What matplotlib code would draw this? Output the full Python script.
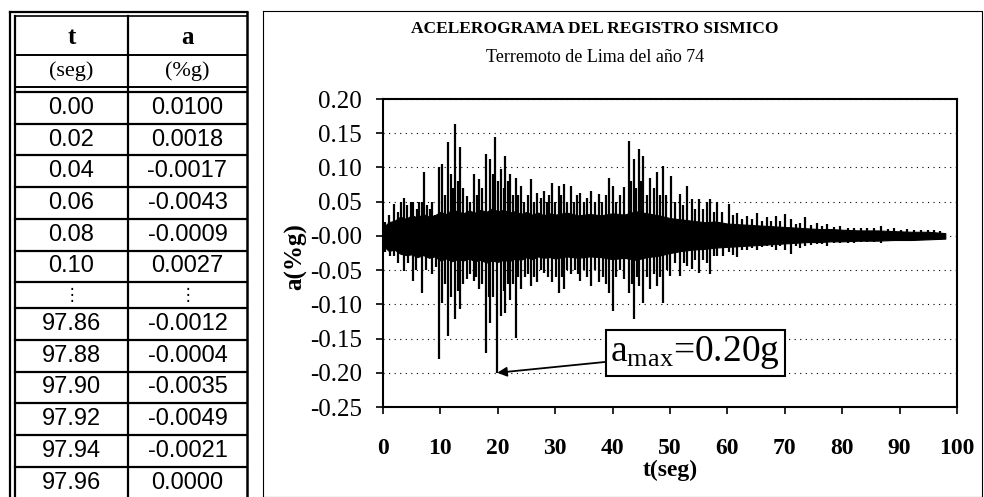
import matplotlib.pyplot as plt
import numpy as np

plt.rcParams['font.family'] = 'Liberation Serif'
plt.rcParams['mathtext.fontset'] = 'custom'
plt.rcParams['mathtext.rm'] = 'Liberation Serif'
plt.rcParams['axes.unicode_minus'] = False

# tabla de valores (inicio y final del registro)
tab_t_ini = [0.00, 0.02, 0.04, 0.06, 0.08, 0.10]
tab_a_ini = [0.0100, 0.0018, -0.0017, -0.0043, -0.0009, 0.0027]
tab_t_fin = [97.86, 97.88, 97.90, 97.92, 97.94, 97.96]
tab_a_fin = [-0.0012, -0.0004, -0.0035, -0.0049, -0.0021, 0.0000]

# banda densa del registro
core_t = [0, 1, 2, 3, 4, 5, 6, 7, 8, 9,
          10, 11, 12, 13, 14, 15, 16, 17, 18, 19,
          20, 21, 22, 23, 24, 25, 26, 27, 28, 29,
          30, 32, 34, 36, 38, 40, 42, 44, 46, 48,
          50, 52, 54, 56, 58, 60, 62, 64, 66, 68,
          70, 72, 74, 76, 78, 80, 83, 86, 89, 92,
          95, 97.96]
core_hi = [0.012, 0.020, 0.022, 0.028, 0.025, 0.030, 0.027, 0.032, 0.028, 0.030,
           0.035, 0.032, 0.038, 0.036, 0.033, 0.037, 0.034, 0.038, 0.035, 0.040,
           0.036, 0.038, 0.034, 0.036, 0.032, 0.035, 0.031, 0.034, 0.030, 0.033,
           0.031, 0.034, 0.030, 0.032, 0.030, 0.033, 0.031, 0.036, 0.033, 0.030,
           0.026, 0.024, 0.022, 0.020, 0.021, 0.018, 0.017, 0.016, 0.015, 0.014,
           0.013, 0.012, 0.011, 0.010, 0.010, 0.009, 0.008, 0.008, 0.007, 0.006,
           0.006, 0.004]
core_lo = [-0.014, -0.022, -0.020, -0.026, -0.028, -0.027, -0.031, -0.028, -0.032, -0.030,
           -0.036, -0.033, -0.037, -0.034, -0.036, -0.033, -0.037, -0.035, -0.039, -0.036,
           -0.038, -0.035, -0.037, -0.033, -0.035, -0.031, -0.034, -0.030, -0.032, -0.031,
           -0.033, -0.030, -0.032, -0.030, -0.031, -0.034, -0.032, -0.035, -0.031, -0.029,
           -0.025, -0.022, -0.020, -0.019, -0.017, -0.016, -0.015, -0.014, -0.013, -0.012,
           -0.011, -0.010, -0.009, -0.009, -0.008, -0.008, -0.007, -0.007, -0.006, -0.006,
           -0.005, -0.004]

# picos positivos
pos_t = [0.3, 1.0, 1.9, 2.6, 3.2, 3.6, 4.2, 4.8, 5.3, 5.9, 6.3, 6.8, 7.2, 7.7, 8.2, 8.5, 9.0,
         9.7, 10.3, 10.8, 11.3, 11.8, 12.2, 12.6, 13.0, 13.5, 14.0, 14.6, 15.2, 15.8, 16.3,
         16.7, 17.3, 18.0, 18.7, 19.1, 19.5, 20.0, 20.5, 21.0, 21.3, 21.8, 22.2, 22.7, 23.1,
         23.6, 24.0, 24.6, 25.2, 25.7, 26.3, 26.9, 27.5, 28.0, 28.6, 29.0, 29.5, 30.0, 30.6,
         31.0, 31.5, 32.1, 32.7, 33.3, 33.8, 34.4, 35.0, 35.6, 36.2, 36.9, 37.6, 38.2, 38.8,
         39.4, 40.0, 40.6, 41.3, 42.0, 42.8, 43.2, 43.7, 44.1, 44.6, 45.0, 45.3, 46.0, 46.6,
         47.2, 47.7, 48.2, 48.7, 49.3, 50.1, 50.8, 51.8, 52.3, 52.9, 53.8, 54.4, 55.0, 55.7,
         56.4, 57.0, 57.6, 58.2, 59.0, 60.2, 61.0, 61.7, 62.5, 63.4, 64.3, 65.2, 66.0, 66.9,
         67.6, 68.4, 69.2, 70.1, 71.0, 72.0, 72.7, 73.6, 74.6, 75.6, 76.5, 77.4, 78.5, 79.7,
         81.0, 82.0, 83.2, 84.4, 85.5, 86.7, 88.0, 89.0, 90.2, 91.3, 92.5, 93.7, 95.0, 96.0, 97.0]
pos_a = [0.020, 0.030, 0.046, 0.035, 0.050, 0.056, 0.045, 0.050, 0.050, 0.040, 0.050, 0.050,
         0.094, 0.045, 0.040, 0.050, 0.030, 0.100, 0.105, 0.060, 0.137, 0.090, 0.070, 0.163,
         0.080, 0.130, 0.070, 0.058, 0.050, 0.090, 0.060, 0.083, 0.070, 0.120, 0.112, 0.090,
         0.144, 0.080, 0.098, 0.070, 0.117, 0.080, 0.090, 0.060, 0.085, 0.060, 0.073, 0.050,
         0.060, 0.083, 0.050, 0.063, 0.055, 0.066, 0.050, 0.060, 0.078, 0.050, 0.073, 0.060,
         0.076, 0.050, 0.073, 0.050, 0.060, 0.063, 0.050, 0.055, 0.066, 0.050, 0.061, 0.050,
         0.060, 0.085, 0.073, 0.050, 0.060, 0.071, 0.139, 0.080, 0.112, 0.070, 0.127, 0.080,
         0.117, 0.060, 0.085, 0.070, 0.093, 0.060, 0.102, 0.060, 0.088, 0.050, 0.061, 0.045,
         0.073, 0.054, 0.040, 0.054, 0.040, 0.049, 0.054, 0.035, 0.049, 0.035, 0.046, 0.030,
         0.034, 0.025, 0.029, 0.025, 0.034, 0.022, 0.027, 0.022, 0.029, 0.022, 0.032, 0.024,
         0.018, 0.019, 0.027, 0.016, 0.019, 0.014, 0.017, 0.013, 0.015, 0.012, 0.012, 0.011,
         0.012, 0.011, 0.015, 0.010, 0.011, 0.009, 0.010, 0.009, 0.009, 0.008, 0.008, 0.007]

# picos negativos
neg_t = [0.4, 1.2, 1.9, 2.7, 3.6, 4.3, 5.3, 5.8, 6.8, 7.5, 8.5, 9.2, 9.7, 10.3, 10.8, 11.3,
         11.9, 12.6, 13.1, 13.5, 14.0, 14.6, 15.2, 15.8, 16.2, 16.7, 17.3, 18.0, 18.4, 18.7,
         19.2, 19.9, 20.5, 21.0, 21.3, 21.8, 22.2, 22.7, 23.1, 23.6, 24.0, 24.7, 25.2, 25.7,
         26.3, 26.9, 27.5, 28.0, 28.7, 29.5, 30.1, 30.6, 31.1, 31.5, 32.1, 32.7, 33.4, 34.0,
         34.4, 35.0, 35.6, 36.2, 36.9, 37.6, 38.3, 38.8, 39.4, 40.0, 40.6, 41.3, 42.0, 42.8,
         43.3, 43.7, 44.2, 44.6, 45.3, 46.0, 46.6, 47.2, 47.7, 48.2, 48.7, 49.4, 50.0, 50.8,
         51.8, 52.4, 52.9, 53.8, 54.4, 55.0, 55.7, 56.4, 57.0, 57.6, 58.2, 59.2, 60.2, 61.0,
         61.7, 62.5, 63.4, 64.3, 65.2, 66.0, 66.9, 67.7, 68.4, 69.2, 70.1, 71.0, 72.0, 72.7,
         73.6, 74.6, 75.6, 76.5, 77.4, 78.5, 79.7, 81.0, 82.0, 83.2, 84.4, 85.5, 86.7, 88.0,
         89.0, 90.2, 91.3, 92.5, 93.7, 95.0, 96.0, 97.0]
neg_a = [-0.024, -0.030, -0.030, -0.040, -0.051, -0.040, -0.066, -0.050, -0.083, -0.050,
         -0.056, -0.045, -0.180, -0.098, -0.070, -0.146, -0.090, -0.122, -0.080, -0.107,
         -0.070, -0.063, -0.055, -0.066, -0.060, -0.078, -0.070, -0.171, -0.090, -0.127,
         -0.090, -0.200, -0.117, -0.080, -0.112, -0.070, -0.093, -0.070, -0.149, -0.060,
         -0.078, -0.060, -0.055, -0.073, -0.060, -0.068, -0.050, -0.054, -0.060, -0.068,
         -0.060, -0.083, -0.060, -0.078, -0.050, -0.056, -0.050, -0.055, -0.066, -0.050,
         -0.060, -0.073, -0.050, -0.068, -0.060, -0.070, -0.083, -0.110, -0.060, -0.050,
         -0.063, -0.083, -0.070, -0.122, -0.060, -0.073, -0.098, -0.060, -0.078, -0.055,
         -0.073, -0.060, -0.098, -0.050, -0.059, -0.040, -0.058, -0.040, -0.044, -0.048,
         -0.035, -0.054, -0.035, -0.039, -0.056, -0.030, -0.029, -0.030, -0.024, -0.028,
         -0.031, -0.020, -0.020, -0.018, -0.020, -0.016, -0.015, -0.016, -0.020, -0.015,
         -0.020, -0.026, -0.015, -0.017, -0.015, -0.013, -0.012, -0.012, -0.015, -0.010,
         -0.010, -0.010, -0.011, -0.009, -0.009, -0.009, -0.010, -0.008, -0.007, -0.007,
         -0.007, -0.007, -0.006, -0.006, -0.006, -0.006]

t_amax, a_amax = 19.9, -0.20

fig = plt.figure(figsize=(9.84, 4.97), dpi=100)

# capa de fondo en pixeles: tabla y marco del grafico
bg = fig.add_axes([0, 0, 1, 1])
bg.set_xlim(0, 984)
bg.set_ylim(497, 0)
bg.axis('off')

# marco del grafico
bg.plot([263, 982, 982, 263, 263], [11, 11, 497, 497, 11], color='k', lw=0.8)

# tabla
xl_out, xl_in, xm, xr = 10, 15, 128, 247
bg.plot([xl_out, xl_out], [12, 497], color='k', lw=1.6)
bg.plot([xl_in, xl_in], [16, 497], color='k', lw=1.6)
bg.plot([xr, xr], [12, 497], color='k', lw=1.8)
bg.plot([xl_out, xr], [12, 12], color='k', lw=1.6)
bg.plot([xl_in, xr], [16, 16], color='k', lw=1.2)
bg.plot([xm, xm], [16, 497], color='k', lw=1.6)
for yy, lw in [(55, 1.4), (87, 1.4), (92, 1.6)]:
    bg.plot([xl_in, xr], [yy, yy], color='k', lw=lw)
cx1, cx2 = (xl_in + xm) / 2, (xm + xr) / 2
bg.text(cx1, 38, 't', ha='center', va='center', fontsize=18, fontweight='bold')
bg.text(cx2, 38, 'a', ha='center', va='center', fontsize=18, fontweight='bold')
bg.text(cx1, 71, '(seg)', ha='center', va='center', fontsize=16)
bg.text(cx2, 71, '(%g)', ha='center', va='center', fontsize=16)

row_h = 31.7
y0 = 92
rows = [(f'{t:.2f}', f'{a:.4f}') for t, a in zip(tab_t_ini, tab_a_ini)]
for i, (ts, as_) in enumerate(rows):
    yc = y0 + (i + 0.5) * row_h
    bg.text(cx1, yc, ts, ha='center', va='center', fontsize=17, family='Liberation Sans')
    bg.text(cx2, yc, as_, ha='center', va='center', fontsize=17, family='Liberation Sans')
    bg.plot([xl_in, xr], [y0 + (i + 1) * row_h] * 2, color='k', lw=1.6)
y_dots = y0 + 6 * row_h
dots_h = 26
for cx in (cx1, cx2):
    bg.text(cx, y_dots + dots_h / 2, '⋮', ha='center', va='center', fontsize=12,
            family=['DejaVu Sans'])
bg.plot([xl_in, xr], [y_dots + dots_h] * 2, color='k', lw=1.6)
y1 = y_dots + dots_h
rows = [(f'{t:.2f}', f'{a:.4f}') for t, a in zip(tab_t_fin, tab_a_fin)]
for i, (ts, as_) in enumerate(rows):
    yc = y1 + (i + 0.5) * row_h
    bg.text(cx1, yc, ts, ha='center', va='center', fontsize=17, family='Liberation Sans')
    bg.text(cx2, yc, as_, ha='center', va='center', fontsize=17, family='Liberation Sans')
    bg.plot([xl_in, xr], [y1 + (i + 1) * row_h] * 2, color='k', lw=1.6)

# titulos
bg.text(595, 29, 'ACELEROGRAMA DEL REGISTRO SISMICO', ha='center', va='center',
        fontsize=12.5, fontweight='bold')
bg.text(595, 58, 'Terremoto de Lima del año 74', ha='center', va='center', fontsize=13)

# acelerograma
ax = fig.add_axes([383 / 984, 1 - 407 / 497, 574 / 984, 308 / 497])
ax.fill_between(core_t, core_lo, core_hi, color='k', lw=0.8)
ax.vlines(pos_t, 0, pos_a, color='k', lw=1.6)
ax.vlines(neg_t, neg_a, 0, color='k', lw=1.6)

ax.set_xlim(0, 100)
ax.set_ylim(-0.25, 0.20)
ax.set_xticks(np.arange(0, 101, 10))
ax.set_yticks(np.arange(-0.25, 0.201, 0.05))
ax.set_yticklabels([f'{v:.2f}' for v in np.arange(-0.25, 0.201, 0.05)])
ax.yaxis.grid(True, linestyle=(0, (1, 4)), color='k', lw=0.8)
ax.set_axisbelow(True)
for s in ax.spines.values():
    s.set_linewidth(1.5)
ax.tick_params(axis='y', direction='out', length=5, width=1.2, labelsize=18, pad=10)
ax.tick_params(axis='x', direction='out', length=5, width=1.2, labelsize=17, pad=17)
for lbl in ax.get_xticklabels():
    lbl.set_fontweight('bold')

ax.set_xlabel('t(seg)', fontsize=17, fontweight='bold')
ax.xaxis.set_label_coords(0.5, -0.205)
ax.xaxis.label.set_va('center')
ax.set_ylabel('a(%g)', fontsize=18, fontweight='bold')
ax.yaxis.set_label_coords(-0.152, 0.49)
ax.yaxis.label.set_va('center')

ax.annotate(r'$\mathrm{a_{max}}$=0.20g', xy=(t_amax, a_amax), xytext=(54.4, -0.171),
            ha='center', va='center', fontsize=27,
            bbox=dict(boxstyle='square,pad=0.12', fc='white', ec='k', lw=1.5),
            arrowprops=dict(arrowstyle='-|>', color='k', lw=1.3, mutation_scale=14,
                            shrinkA=0, shrinkB=0))

fig.savefig('out.png', dpi=100)
